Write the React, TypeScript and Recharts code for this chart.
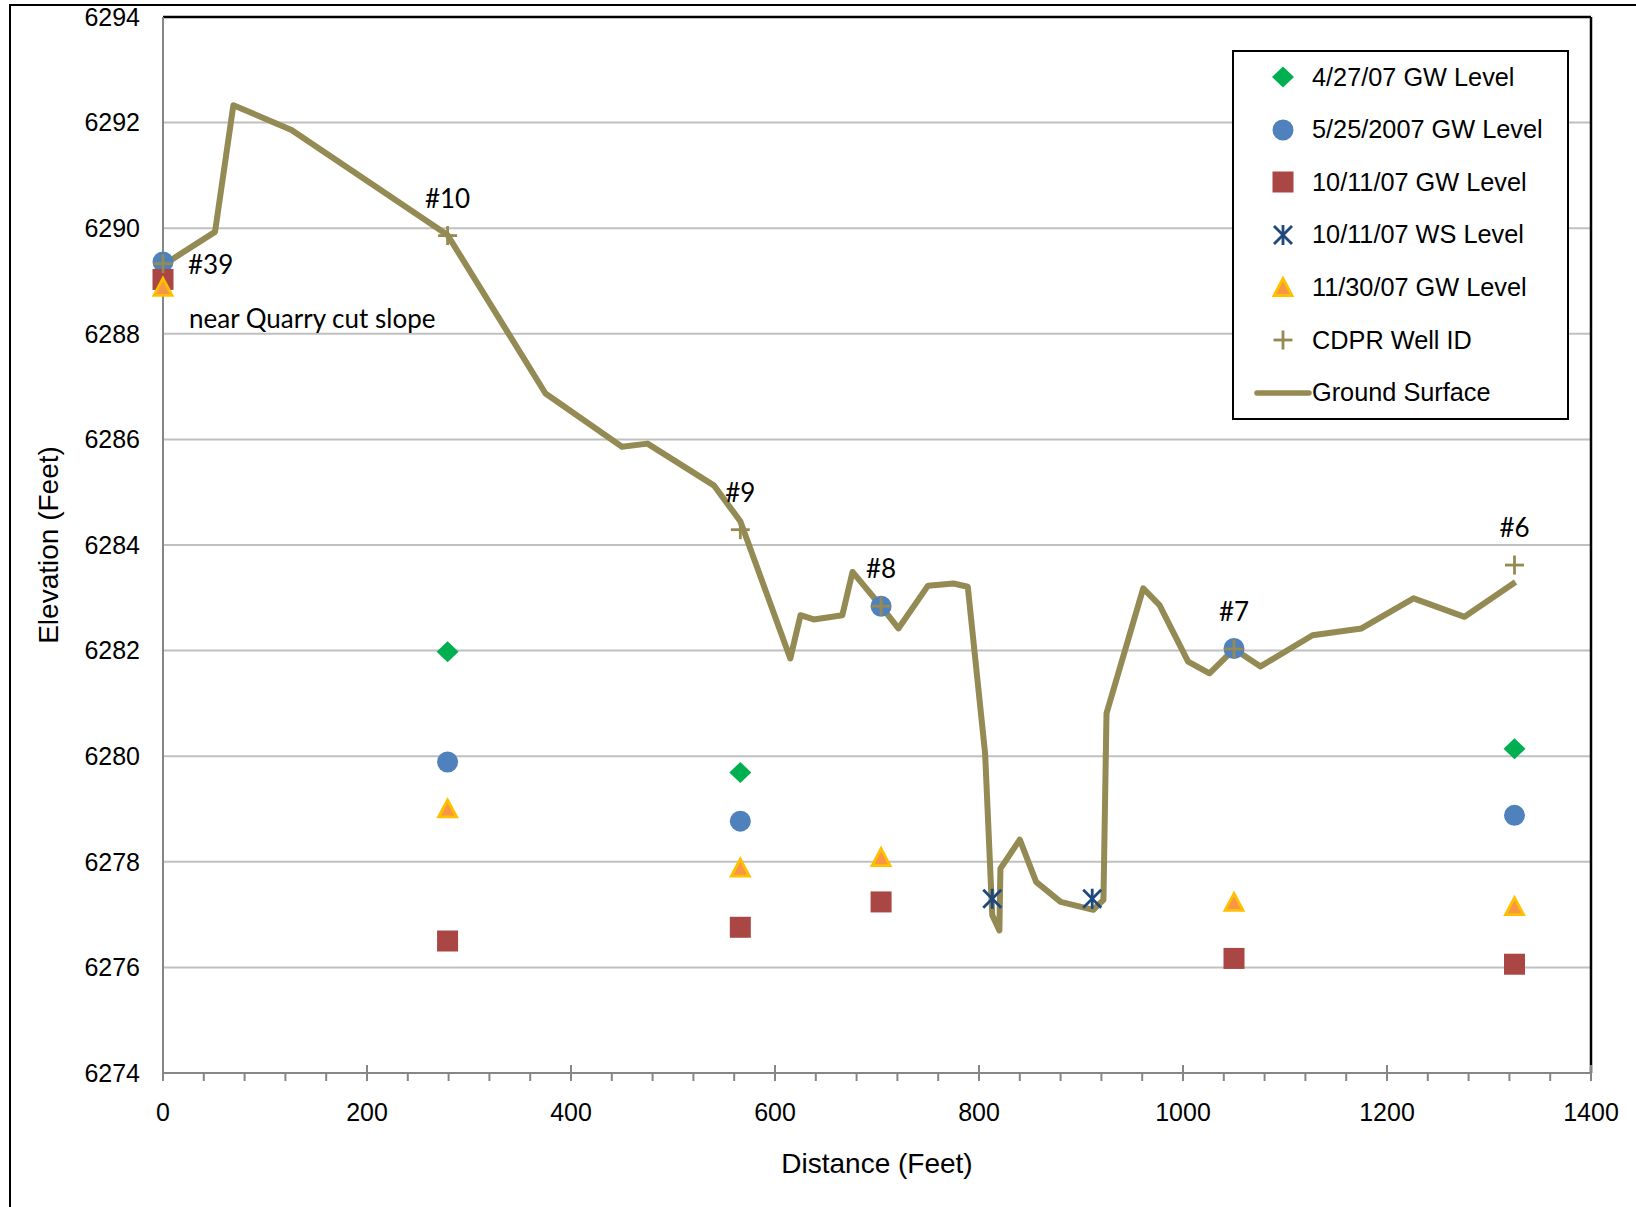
import React from "react"
import { ComposedChart, Line, Scatter, XAxis, YAxis, CartesianGrid, ReferenceLine } from "recharts"

// ground surface profile (distance ft, elevation ft)
const groundDist = [
  0, 51, 69, 126, 279, 375, 450, 475, 540, 566, 615, 625, 638, 666, 676, 704, 721, 750, 775, 789, 806, 813, 820,
  821, 840, 856, 880, 912, 922, 925, 961, 977, 1005, 1026, 1050, 1076, 1127, 1175, 1226, 1276, 1326,
]
const groundElev = [
  6289.3, 6289.93, 6292.33, 6291.86, 6289.87, 6286.87, 6285.86, 6285.92, 6285.13, 6284.45, 6281.85, 6282.67,
  6282.59, 6282.67, 6283.49, 6282.84, 6282.42, 6283.23, 6283.27, 6283.21, 6280.05, 6276.99, 6276.7, 6277.87,
  6278.42, 6277.62, 6277.24, 6277.09, 6277.28, 6280.81, 6283.18, 6282.86, 6281.79, 6281.57, 6282.03, 6281.7,
  6282.29, 6282.42, 6282.99, 6282.64, 6283.3,
]

// wells
const wellDist = [0, 279, 566, 704, 1050, 1325]
const wellIds = ["#39", "#10", "#9", "#8", "#7", "#6"]
const wellTop = [6289.33, 6289.86, 6284.29, 6282.84, 6282.03, 6283.62]
const quarryNote = "near Quarry cut slope"

const gw0427Dist = [279, 566, 1325]
const gw0427 = [6281.98, 6279.69, 6280.14]
const gw0525 = [6289.36, 6279.89, 6278.77, 6282.84, 6282.04, 6278.88]
const gw1011 = [6289.03, 6276.5, 6276.76, 6277.24, 6276.17, 6276.06]
const ws1011Dist = [813, 911]
const ws1011 = [6277.3, 6277.3]
const gw1130 = [6288.89, 6279.01, 6277.89, 6278.09, 6277.24, 6277.16]

const seriesNames = [
  "4/27/07 GW Level",
  "5/25/2007 GW Level",
  "10/11/07 GW Level",
  "10/11/07 WS Level",
  "11/30/07 GW Level",
  "CDPR Well ID",
  "Ground Surface",
]

const xTicks = [
  0, 40, 80, 120, 160, 200, 240, 280, 320, 360, 400, 440, 480, 520, 560, 600, 640, 680, 720, 760, 800, 840, 880, 920,
  960, 1000, 1040, 1080, 1120, 1160, 1200, 1240, 1280, 1320, 1360, 1400,
]
const xLabels = [0, 200, 400, 600, 800, 1000, 1200, 1400]
const yTicks = [6274, 6276, 6278, 6280, 6282, 6284, 6286, 6288, 6290, 6292, 6294]

const pts = (xs: number[], ys: number[]) => xs.map((x, i) => ({ x, y: ys[i] }))

const groundData = pts(groundDist, groundElev)
const wellData = wellDist.map((x, i) => ({ x, y: wellTop[i], id: wellIds[i] }))

const COLORS = {
  green: "#00B050",
  blue: "#4F81BD",
  red: "#AA4643",
  navy: "#1F497D",
  orange: "#F79646",
  gold: "#FFC000",
  olive: "#948A54",
}

const FONT = '"Liberation Sans", Arial, sans-serif'
const TICK_GAP = 30

const Diamond = ({ cx, cy }: any) => (
  <path d={`M${cx},${cy - 10.5} L${cx + 11},${cy} L${cx},${cy + 10.5} L${cx - 11},${cy} Z`} fill={COLORS.green} />
)
const Dot = ({ cx, cy }: any) => <circle cx={cx} cy={cy} r={10.5} fill={COLORS.blue} />
const Square = ({ cx, cy }: any) => <rect x={cx - 10.5} y={cy - 10.5} width={21} height={21} fill={COLORS.red} />
const Star = ({ cx, cy }: any) => (
  <g stroke={COLORS.navy} strokeWidth={2.8}>
    <line x1={cx - 9} y1={cy - 9} x2={cx + 9} y2={cy + 9} />
    <line x1={cx - 9} y1={cy + 9} x2={cx + 9} y2={cy - 9} />
    <line x1={cx} y1={cy - 10} x2={cx} y2={cy + 10} />
  </g>
)
const Triangle = ({ cx, cy }: any) => (
  <path
    d={`M${cx},${cy - 8.5} L${cx + 9},${cy + 8.5} L${cx - 9},${cy + 8.5} Z`}
    fill={COLORS.orange}
    stroke={COLORS.gold}
    strokeWidth={2.8}
    strokeLinejoin="miter"
  />
)
const Plus = ({ cx, cy }: any) => (
  <g stroke={COLORS.olive} strokeWidth={2.8}>
    <line x1={cx - 9.5} y1={cy} x2={cx + 9.5} y2={cy} />
    <line x1={cx} y1={cy - 9.5} x2={cx} y2={cy + 9.5} />
  </g>
)

const WellMark = (props: any) => {
  const { cx, cy, payload } = props
  const labelStyle = { fontFamily: "Lato, sans-serif", fontSize: 26, fill: "#000" }
  if (payload.id === "#39") {
    return (
      <g>
        <Plus cx={cx} cy={cy} />
        <text x={cx + 25} y={cy} dominantBaseline="central" style={labelStyle}>
          {payload.id}
        </text>
        <text x={cx + 26} y={cy + 54} dominantBaseline="central" style={labelStyle}>
          {quarryNote}
        </text>
      </g>
    )
  }
  return (
    <g>
      <Plus cx={cx} cy={cy} />
      <text x={cx} y={cy - 38} textAnchor="middle" dominantBaseline="central" style={labelStyle}>
        {payload.id}
      </text>
    </g>
  )
}

const XTick = ({ x, y, payload }: any) => {
  const v = payload.value
  const major = xLabels.includes(v)
  const ay = y - TICK_GAP
  return (
    <g>
      <line x1={x} x2={x} y1={major ? ay - 8 : ay} y2={ay + 8} stroke="#868686" strokeWidth={2} />
      {major && (
        <text x={x} y={y} dy="0.71em" textAnchor="middle" fill="#000" fontSize={25} fontFamily={FONT}>
          {v}
        </text>
      )}
    </g>
  )
}

const legendIcons = [
  <Diamond cx={31} cy={15} />,
  <Dot cx={31} cy={15} />,
  <Square cx={31} cy={15} />,
  <Star cx={31} cy={15} />,
  <Triangle cx={31} cy={15} />,
  <Plus cx={31} cy={15} />,
  <line x1={5} y1={15} x2={57} y2={15} stroke={COLORS.olive} strokeWidth={5.5} strokeLinecap="round" />,
]

function LegendBox() {
  return (
    <div
      style={{
        position: "absolute",
        left: 1232,
        top: 50,
        width: 337,
        height: 370,
        boxSizing: "border-box",
        border: "2.5px solid #000",
        background: "#fff",
      }}
    >
      {seriesNames.map((name, i) => (
        <div
          key={name}
          style={{
            position: "absolute",
            left: 18,
            top: 27.5 + i * 52.6 - 2.5 - 15,
            height: 30,
            display: "flex",
            alignItems: "center",
            whiteSpace: "nowrap",
          }}
        >
          <svg width={58} height={30} style={{ overflow: "visible" }}>
            {legendIcons[i]}
          </svg>
          <span style={{ fontFamily: FONT, fontSize: 25.3, color: "#000", marginLeft: 2 }}>{name}</span>
        </div>
      ))}
    </div>
  )
}

export default function App() {
  return (
    <div
      style={{
        position: "fixed",
        left: 0,
        top: 0,
        width: 1636,
        height: 1207,
        overflow: "hidden",
        background: "#fff",
        fontFamily: FONT,
      }}
    >
      <div
        style={{
          position: "absolute",
          left: 9,
          top: 4,
          width: 1700,
          height: 1300,
          border: "2px solid #000",
        }}
      />
      <div style={{ position: "absolute", left: 0, top: 0 }}>
        <ComposedChart width={1636} height={1207} margin={{ top: 17, right: 45, bottom: 0, left: 0 }}>
          <CartesianGrid vertical={false} stroke="#C0C0C0" strokeWidth={2} />
          <XAxis
            type="number"
            dataKey="x"
            domain={[0, 1400]}
            ticks={xTicks}
            interval={0}
            height={134}
            tickSize={0}
            tickMargin={TICK_GAP}
            tickLine={false}
            tick={<XTick />}
            axisLine={{ stroke: "#868686", strokeWidth: 2 }}
            label={{
              value: "Distance (Feet)",
              position: "insideBottom",
              offset: 34,
              fill: "#000",
              fontSize: 28,
              fontFamily: FONT,
            }}
          />
          <YAxis
            type="number"
            dataKey="y"
            domain={[6274, 6294]}
            ticks={yTicks}
            interval={0}
            width={163}
            tickSize={0}
            tickMargin={23}
            tickLine={false}
            tick={{ fill: "#000", fontSize: 25, fontFamily: FONT }}
            axisLine={{ stroke: "#868686", strokeWidth: 2 }}
            label={{
              value: "Elevation (Feet)",
              angle: -90,
              position: "insideLeft",
              offset: 48,
              fill: "#000",
              fontSize: 28,
              fontFamily: FONT,
              style: { textAnchor: "middle" },
            }}
          />
          <ReferenceLine y={6294} stroke="#000" strokeWidth={2.5} />
          <ReferenceLine x={1400} stroke="#000" strokeWidth={2.5} />
          <Line
            data={groundData}
            dataKey="y"
            name={seriesNames[6]}
            type="linear"
            stroke={COLORS.olive}
            strokeWidth={6}
            strokeLinejoin="round"
            dot={false}
            activeDot={false}
            isAnimationActive={false}
          />
          <Scatter data={pts(gw0427Dist, gw0427)} name={seriesNames[0]} shape={<Diamond />} isAnimationActive={false} />
          <Scatter data={pts(wellDist, gw0525)} name={seriesNames[1]} shape={<Dot />} isAnimationActive={false} />
          <Scatter data={pts(wellDist, gw1011)} name={seriesNames[2]} shape={<Square />} isAnimationActive={false} />
          <Scatter data={pts(ws1011Dist, ws1011)} name={seriesNames[3]} shape={<Star />} isAnimationActive={false} />
          <Scatter data={pts(wellDist, gw1130)} name={seriesNames[4]} shape={<Triangle />} isAnimationActive={false} />
          <Scatter data={wellData} name={seriesNames[5]} shape={<WellMark />} isAnimationActive={false} />
        </ComposedChart>
      </div>
      <LegendBox />
    </div>
  )
}
